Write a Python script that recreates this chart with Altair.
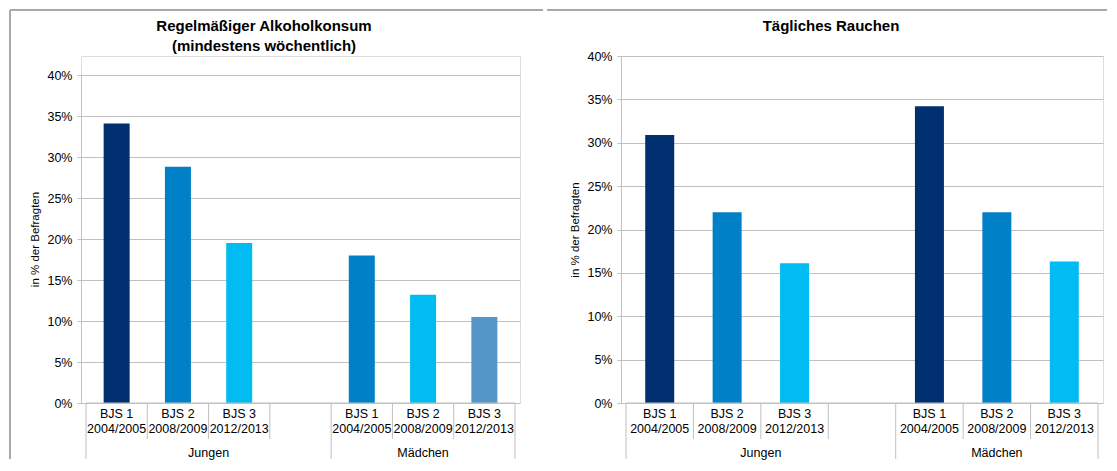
import altair as alt
import pandas as pd

# ---- data ----
groups = ["Jungen", "Mädchen"]
surveys = ["BJS 1\n2004/2005", "BJS 2\n2008/2009", "BJS 3\n2012/2013"]
slots_per_group = [4, 3]  # Jungen group has one empty slot at its end

alcohol_title = "Regelmäßiger Alkoholkonsum\n(mindestens wöchentlich)"
smoking_title = "Tägliches Rauchen"

alcohol_jungen = [34.1, 28.8, 19.5]
alcohol_maedchen = [18.0, 13.2, 10.5]
smoking_jungen = [30.9, 22.0, 16.1]
smoking_maedchen = [34.2, 22.0, 16.3]

alcohol_colors_jungen = ["#00306F", "#0080C6", "#00BCF2"]
alcohol_colors_maedchen = ["#0080C6", "#00BCF2", "#5596C8"]
smoking_colors_jungen = ["#00306F", "#0080C6", "#00BCF2"]
smoking_colors_maedchen = ["#00306F", "#0080C6", "#00BCF2"]

y_ticks = [0, 0.05, 0.10, 0.15, 0.20, 0.25, 0.30, 0.35, 0.40]

FONT = "Liberation Sans"
GRID = "#C0C0C0"
FRAME = "#A8A8A8"

group_start = [0, slots_per_group[0]]
group_end = [slots_per_group[0], slots_per_group[0] + slots_per_group[1]]
n_slots = group_end[-1]

H = 347  # common panel height (plot origins are aligned in a row)


def panel(title, jv, mv, jc, mc, w, plot_top, bw, left_x, right_ext, left_frame, title_x):
    h = H
    rows = []
    for gi, (vals, cols) in enumerate([(jv, jc), (mv, mc)]):
        for si, (s, v, c) in enumerate(zip(surveys, vals, cols)):
            rows.append(dict(group=groups[gi], survey=s, value=v / 100.0, color=c,
                             center=group_start[gi] + si + 0.5))
    bars_df = pd.DataFrame(rows)
    groups_df = pd.DataFrame(dict(group=groups, start=group_start, end=group_end,
                                  mid=[(a + b) / 2 for a, b in zip(group_start, group_end)]))
    inner = []
    for a, b in zip(group_start, group_end):
        inner += list(range(a + 1, b))
    inner_df = pd.DataFrame(dict(pos=inner))
    outer_df = pd.DataFrame(dict(pos=sorted(set(group_start + group_end))))

    xs = alt.Scale(domain=[0, n_slots], nice=False, zero=False)
    ys = alt.Scale(domain=[0, 0.4], nice=False, range=[h, plot_top])

    bars = alt.Chart(bars_df).mark_bar(size=bw).encode(
        x=alt.X("center:Q", scale=xs, axis=None),
        y=alt.Y("value:Q", scale=ys, axis=alt.Axis(
            values=y_ticks, format=".0%", grid=True, gridColor=GRID, gridWidth=1,
            domainColor=GRID, tickColor=GRID, tickSize=4, labelFontSize=12.5,
            labelPadding=5, labelColor="#000", title="in % der Befragten",
            titleFontSize=11.5, titleFontWeight="normal", titleColor="#000",
            titlePadding=6, labelFont=FONT, titleFont=FONT)),
        color=alt.Color("color:N", scale=None),
    )
    baseline = alt.Chart(groups_df).mark_rule(color=GRID, strokeWidth=1).encode(
        x=alt.X("start:Q", axis=None), x2="end:Q", y=alt.value(h))
    inner_sep = alt.Chart(inner_df).mark_rule(color=GRID).encode(
        x=alt.X("pos:Q", axis=None), y=alt.value(h), y2=alt.value(h + 36))
    outer_sep = alt.Chart(outer_df).mark_rule(color=GRID).encode(
        x=alt.X("pos:Q", axis=None), y=alt.value(h), y2=alt.value(h + 56))
    sublabels = alt.Chart(bars_df).mark_text(
        lineBreak="\n", baseline="top", fontSize=12.5, lineHeight=15, font=FONT, color="#000"
    ).encode(x=alt.X("center:Q", axis=None), y=alt.value(h + 5), text="survey:N")
    glabels = alt.Chart(groups_df).mark_text(
        baseline="middle", fontSize=12.5, font=FONT, color="#000"
    ).encode(x=alt.X("mid:Q", axis=None), y=alt.value(h + 50), text="group:N")

    frame_df = pd.DataFrame(dict(k=[0]))
    title_df = pd.DataFrame(dict(t=[title]))
    top_rule = alt.Chart(frame_df).mark_rule(color=FRAME, strokeWidth=2).encode(
        x=alt.value(left_x), x2=alt.value(w + right_ext), y=alt.value(-46))
    title_mark = alt.Chart(title_df).mark_text(
        lineBreak="\n", baseline="top", align="center", fontSize=15, fontWeight="bold",
        font=FONT, color="#000", lineHeight=20
    ).encode(x=alt.value(title_x), y=alt.value(-37), text="t:N")
    layers = [top_rule, title_mark]
    if left_frame:
        layers.append(alt.Chart(frame_df).mark_rule(color=FRAME, strokeWidth=2).encode(
            x=alt.value(left_x), y=alt.value(-46), y2=alt.value(h + 56)))
    layers += [bars, baseline, inner_sep, outer_sep, sublabels, glabels]

    return alt.layer(*layers).properties(width=w, height=h)


left = panel(alcohol_title,
             alcohol_jungen, alcohol_maedchen, alcohol_colors_jungen, alcohol_colors_maedchen,
             w=439, plot_top=19, bw=26, left_x=-71, right_ext=23, left_frame=True,
             title_x=183)
right = panel(smoking_title,
              smoking_jungen, smoking_maedchen, smoking_colors_jungen, smoking_colors_maedchen,
              w=482, plot_top=0, bw=29, left_x=-74, right_ext=4, left_frame=False,
              title_x=210)

chart = alt.hconcat(left, right, spacing=0).properties(
    padding={"left": 0, "top": 0, "right": 0, "bottom": 0}
).configure_view(stroke=None).configure(font=FONT)

chart.save("out.html", embed_options={"renderer": "svg", "actions": False})
